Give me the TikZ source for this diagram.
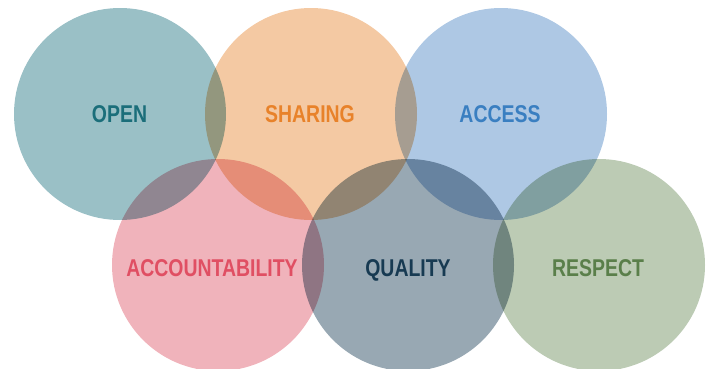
\documentclass[tikz,border=0pt]{standalone}
\usepackage{fontspec}
\setmainfont{Liberation Sans}[FakeStretch=0.8]
\definecolor{openF}{HTML}{9AC0C6}
\definecolor{shareF}{HTML}{F4C9A3}
\definecolor{accessF}{HTML}{AEC8E4}
\definecolor{acctF}{HTML}{F0B3BB}
\definecolor{qualF}{HTML}{98A8B3}
\definecolor{respF}{HTML}{BCCBB4}
\definecolor{openT}{HTML}{1B6E7A}
\definecolor{shareT}{HTML}{E8822A}
\definecolor{accessT}{HTML}{3A7FC1}
\definecolor{acctT}{HTML}{E04F63}
\definecolor{qualT}{HTML}{173A52}
\definecolor{respT}{HTML}{5A7F4A}
\begin{document}
\begin{tikzpicture}[x=1pt,y=1pt,
  circ/.style={circle,draw=none,minimum size=212pt,inner sep=0pt},
  lbl/.style={font=\bfseries\fontsize{24.3}{24.3}\selectfont,inner sep=0pt,anchor=base}]
\useasboundingbox (0,0) rectangle (709,368);
\begin{scope}[blend mode=multiply]
\node[circ,fill=openF]   (c1) at (120,254) {};
\node[circ,fill=shareF]  (c2) at (311,254) {};
\node[circ,fill=accessF] (c3) at (501,254) {};
\node[circ,fill=acctF]   (c4) at (218,103) {};
\node[circ,fill=qualF]   (c5) at (408,103) {};
\node[circ,fill=respF]   (c6) at (599,103) {};
\end{scope}
\node[lbl,text=openT]   (t1) at (119.5,246) {OPEN};
\node[lbl,text=shareT]  (t2) at (310,246) {SHARING};
\node[lbl,text=accessT] (t3) at (500,246) {ACCESS};
\node[lbl,text=acctT]   (t4) at (212,91.3) {ACCOUNTABILITY};
\node[lbl,text=qualT]   (t5) at (408,91.3) {QUALITY};
\node[lbl,text=respT]   (t6) at (598,91.3) {RESPECT};
\end{tikzpicture}
\end{document}
